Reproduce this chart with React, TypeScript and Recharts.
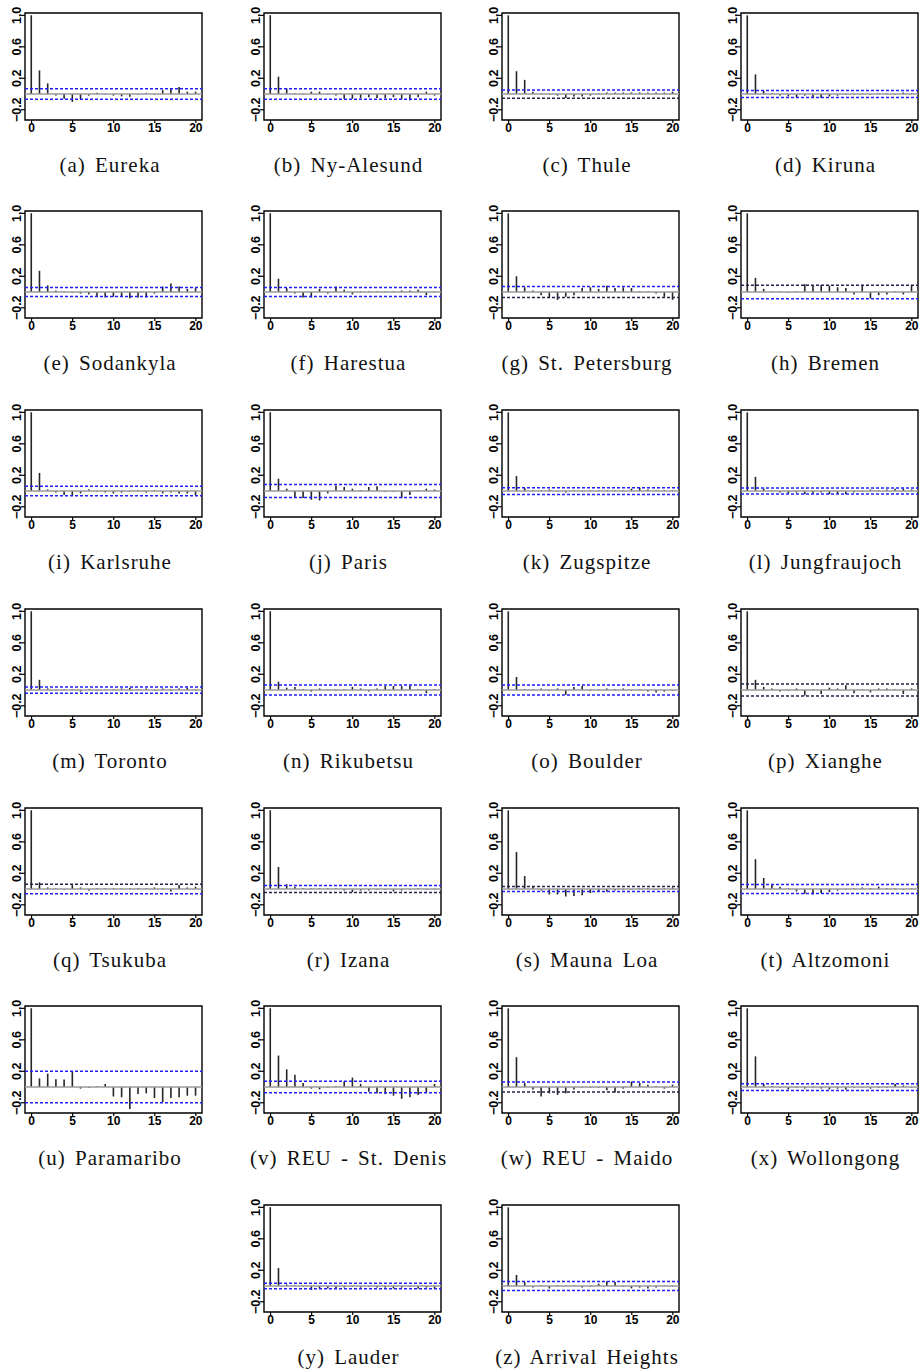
import React from "react";
import { ComposedChart, Bar, XAxis, YAxis, ReferenceLine, ReferenceArea } from "recharts";

const lags = [0, 1, 2, 3, 4, 5, 6, 7, 8, 9, 10, 11, 12, 13, 14, 15, 16, 17, 18, 19, 20];

const eureka = [1, 0.3, 0.135, -0.02, -0.06, -0.1, -0.065, -0.02, 0.015, -0.01, -0.02, -0.03, -0.035, -0.01, 0.015, -0.01, 0.05, 0.07, 0.09, 0.03, 0.03];
const nyAlesund = [1, 0.22, 0.07, 0.01, -0.01, 0.03, 0.03, -0.01, -0.02, -0.06, -0.06, -0.05, -0.04, -0.05, -0.05, -0.04, -0.06, -0.08, -0.04, 0.03, -0.02];
const thule = [1, 0.29, 0.18, 0.03, 0.01, -0.01, -0.02, -0.05, -0.03, -0.03, -0.02, 0.01, 0.02, 0.02, 0.02, 0.02, 0.02, 0.02, 0.02, 0.02, 0.03];
const kiruna = [1, 0.25, 0.04, 0.01, -0.02, -0.03, -0.04, -0.02, -0.04, -0.05, -0.03, -0.02, -0.01, -0.01, 0.01, -0.01, 0.01, 0.01, -0.01, 0.02, 0.01];
const sodankyla = [1, 0.27, 0.085, 0.02, 0.01, -0.01, -0.02, -0.03, -0.05, -0.07, -0.06, -0.05, -0.08, -0.07, -0.07, -0.02, 0.07, 0.11, 0.07, 0.04, 0.05];
const harestua = [1, 0.17, 0.05, -0.02, -0.07, -0.07, 0.04, -0.02, 0.07, 0.03, -0.03, 0.01, 0.01, 0.01, 0.01, 0.01, 0.02, 0.02, 0.03, -0.04, 0.01];
const stPetersburg = [1, 0.2, 0.06, 0.02, -0.04, -0.07, -0.1, -0.06, -0.04, 0.05, 0.06, 0.04, 0.08, 0.05, 0.06, 0.05, 0.01, 0.01, -0.02, -0.06, -0.1];
const bremen = [1, 0.18, 0.04, 0.01, 0.01, -0.01, 0.01, 0.1, 0.09, 0.09, 0.08, 0.06, 0.05, -0.03, 0.09, -0.08, -0.04, -0.03, 0.01, -0.03, 0.09];
const karlsruhe = [1, 0.23, 0.02, -0.02, -0.05, -0.06, -0.03, 0.02, -0.01, -0.02, -0.03, -0.02, -0.01, 0.01, -0.02, 0.01, -0.03, -0.02, -0.03, -0.03, -0.05];
const paris = [1, 0.157, 0.03, -0.09, -0.09, -0.11, -0.12, -0.03, 0.07, 0.05, 0.03, 0.01, 0.05, 0.06, -0.01, -0.01, -0.09, -0.05, 0.01, 0.03, 0.02];
const zugspitze = [1, 0.19, 0.04, 0.01, 0.01, 0.02, -0.01, -0.02, 0.01, -0.01, 0.01, 0.01, 0.01, 0.01, 0.01, 0.03, 0.04, 0.02, 0.01, 0.01, 0.01];
const jungfraujoch = [1, 0.18, 0.03, 0.01, -0.02, -0.03, -0.02, -0.04, -0.03, -0.02, -0.04, -0.03, -0.04, -0.02, -0.01, 0.02, 0.01, 0.02, 0.03, 0.03, 0.02];
const toronto = [1, 0.13, 0.02, -0.01, 0.01, 0.01, -0.02, 0.01, -0.01, 0.01, 0.01, 0.02, 0.03, 0.01, 0.02, -0.01, 0.02, 0.01, 0.02, 0.03, 0.01];
const rikubetsu = [1, 0.106, 0.03, 0.04, 0.01, -0.02, 0.02, 0.01, -0.01, 0.01, 0.04, 0.02, -0.02, 0.02, 0.05, 0.05, 0.05, 0.06, 0.01, -0.04, 0.01];
const boulder = [1, 0.166, 0.01, 0.01, 0.02, -0.01, 0.02, -0.06, 0.04, 0.05, -0.01, 0.01, 0.02, 0.01, 0.02, -0.01, 0.01, -0.02, -0.03, -0.02, -0.01];
const xianghe = [1, 0.13, 0.04, 0.02, -0.02, -0.01, 0.02, -0.07, 0.01, -0.05, 0.03, 0.02, 0.06, -0.04, 0.01, -0.03, 0.02, 0.02, 0.01, -0.05, 0.02];
const tsukuba = [1, 0.085, 0.02, 0.01, -0.01, 0.05, 0.02, -0.02, 0.01, 0.01, 0.01, 0.01, 0.01, 0.01, 0.01, 0.02, 0.01, -0.03, 0.05, 0.02, 0.03];
const izana = [1, 0.28, 0.06, 0.03, 0.01, 0.01, 0.01, 0.01, 0.01, -0.02, -0.04, -0.02, -0.02, -0.01, -0.01, -0.03, -0.02, -0.01, 0.01, -0.01, -0.01];
const maunaLoa = [1, 0.47, 0.165, 0.03, -0.02, -0.07, -0.07, -0.095, -0.09, -0.08, -0.05, -0.03, -0.03, -0.02, -0.01, -0.01, 0.01, 0.01, -0.01, 0.01, 0.02];
const altzomoni = [1, 0.38, 0.14, 0.06, 0.03, 0.01, -0.03, -0.06, -0.07, -0.05, -0.04, -0.02, -0.01, 0.01, 0.02, 0.01, 0.03, 0.01, 0.01, -0.01, 0.01];
const paramaribo = [1, 0.11, 0.17, 0.1, 0.095, 0.2, -0.02, -0.01, 0.01, 0.04, -0.12, -0.13, -0.28, -0.09, -0.08, -0.14, -0.19, -0.14, -0.13, -0.11, -0.11];
const stDenis = [1, 0.4, 0.225, 0.157, 0.05, -0.02, -0.03, -0.01, 0.01, 0.07, 0.12, 0.04, -0.06, -0.08, -0.09, -0.11, -0.15, -0.13, -0.1, -0.07, 0.04];
const maido = [1, 0.38, 0.05, -0.03, -0.12, -0.08, -0.1, -0.08, -0.03, -0.01, -0.01, -0.01, -0.04, -0.07, -0.02, 0.07, 0.05, 0.03, 0.01, -0.02, 0.03];
const wollongong = [1, 0.39, 0.04, 0.01, -0.01, -0.03, -0.01, -0.02, -0.01, -0.02, -0.03, -0.02, -0.03, -0.01, -0.01, -0.02, -0.01, -0.01, 0.04, 0.02, -0.01];
const lauder = [1, 0.23, 0.02, 0.01, -0.01, -0.05, -0.03, -0.03, -0.03, -0.02, -0.01, -0.02, -0.01, -0.02, -0.02, -0.03, -0.02, -0.01, -0.03, -0.02, -0.03];
const arrivalHeights = [1, 0.14, 0.05, -0.02, 0.01, -0.03, 0.01, 0.01, 0.01, -0.02, -0.01, 0.03, 0.06, 0.05, -0.01, -0.03, -0.02, -0.03, -0.02, 0.01, -0.01];

const acfSeries = [
  eureka, nyAlesund, thule, kiruna, sodankyla, harestua, stPetersburg, bremen,
  karlsruhe, paris, zugspitze, jungfraujoch, toronto, rikubetsu, boulder, xianghe,
  tsukuba, izana, maunaLoa, altzomoni, paramaribo, stDenis, maido, wollongong,
  lauder, arrivalHeights,
];

const stationTags = "abcdefghijklmnopqrstuvwxyz".split("");
const stationNames = [
  "Eureka", "Ny-Alesund", "Thule", "Kiruna", "Sodankyla", "Harestua", "St. Petersburg", "Bremen",
  "Karlsruhe", "Paris", "Zugspitze", "Jungfraujoch", "Toronto", "Rikubetsu", "Boulder", "Xianghe",
  "Tsukuba", "Izana", "Mauna Loa", "Altzomoni", "Paramaribo", "REU - St. Denis", "REU - Maido", "Wollongong",
  "Lauder", "Arrival Heights",
];

// confidence bound (±) for each station
const ciLevels = [
  0.066, 0.066, 0.052, 0.045, 0.058, 0.058, 0.07, 0.085,
  0.06, 0.083, 0.043, 0.038, 0.04, 0.064, 0.064, 0.076,
  0.06, 0.045, 0.032, 0.058, 0.2, 0.072, 0.063, 0.043,
  0.036, 0.058,
];

const xTicks = [0, 5, 10, 15, 20];
const yTicks = [-0.2, 0, 0.2, 0.4, 0.6, 0.8, 1];

const BLUE = "#1f1fff";
const DARK = "#22224a";
// dashed bound lines that come out darker in the original
const darkBounds: Record<string, string[]> = {
  c: ["lower"], g: ["lower"], h: ["upper"], p: ["upper", "lower"],
  q: ["upper"], r: ["lower"], s: ["upper"], w: ["lower"],
};

const X_DOMAIN: [number, number] = [-0.8, 20.75];
const Y_DOMAIN: [number, number] = [-0.33, 1.03];

const BOX_W = 177;
const BOX_H = 107;
const colLeft = [25, 263.5, 502, 740.5];
const rowTop = (r: number) => 12.5 + 198.75 * r;

const AXIS_FONT = "'Liberation Sans', Arial, sans-serif";

function YTick(props: any) {
  const { x, y, payload } = props;
  const k = Math.round(payload.value * 10);
  const map: Record<number, string> = { 10: "1.0", 6: "0.6", 2: "0.2", [-2]: "\u22120.2" };
  const lbl = map[k];
  if (!lbl) return null;
  return (
    <text
      x={x}
      y={y}
      transform={`rotate(-90 ${x} ${y})`}
      textAnchor="middle"
      fontSize={12.5}
      fontWeight="bold"
      fontFamily={AXIS_FONT}
      fill="#000"
    >
      {lbl}
    </text>
  );
}

function AcfPanel({ index }: { index: number }) {
  const values = acfSeries[index];
  const data = lags.map((lag, i) => ({ lag, acf: values[i] }));
  const ci = ciLevels[index];
  const tag = stationTags[index];
  const dark = darkBounds[tag] || [];
  const upColor = dark.includes("upper") ? DARK : BLUE;
  const loColor = dark.includes("lower") ? DARK : BLUE;

  let row = Math.floor(index / 4);
  let col = index % 4;
  if (index >= 24) {
    row = 6;
    col = index - 23;
  }
  const boxLeft = colLeft[col];
  const boxTop = rowTop(row);

  return (
    <>
      <div style={{ position: "absolute", left: boxLeft - 25, top: boxTop - 12 }}>
        <ComposedChart
          width={25 + BOX_W + 12}
          height={12 + BOX_H + 31}
          data={data}
          margin={{ top: 12, right: 12, bottom: 0, left: 0 }}
        >
          <XAxis
            dataKey="lag"
            type="number"
            domain={X_DOMAIN}
            ticks={xTicks}
            allowDataOverflow
            axisLine={false}
            tickSize={3}
            tickMargin={0}
            height={31}
            tickLine={{ stroke: "#000", strokeWidth: 1.2 }}
            tick={{ fontSize: 12, fontWeight: "bold", fill: "#000", fontFamily: AXIS_FONT }}
          />
          <YAxis
            type="number"
            domain={Y_DOMAIN}
            ticks={yTicks}
            allowDataOverflow
            axisLine={false}
            width={25}
            tickSize={4}
            tickMargin={0}
            tickLine={{ stroke: "#000", strokeWidth: 1.2 }}
            tick={<YTick />}
          />
          <ReferenceLine y={0} stroke="#9a9a9a" strokeWidth={1.5} />
          <Bar dataKey="acf" barSize={1.6} fill="#262626" isAnimationActive={false} />
          <ReferenceLine y={ci} stroke={upColor} strokeWidth={1.5} strokeDasharray="3 2" />
          <ReferenceLine y={-ci} stroke={loColor} strokeWidth={1.5} strokeDasharray="3 2" />
          <ReferenceArea
            x1={X_DOMAIN[0]}
            x2={X_DOMAIN[1]}
            y1={Y_DOMAIN[0]}
            y2={Y_DOMAIN[1]}
            fill="none"
            stroke="#000"
            strokeWidth={1.4}
            ifOverflow="visible"
          />
        </ComposedChart>
      </div>
      <div
        style={{
          position: "absolute",
          left: boxLeft + 85 - 120,
          width: 240,
          top: boxTop + 152 - 13,
          lineHeight: "26px",
          textAlign: "center",
          fontFamily: "'Liberation Serif', 'Times New Roman', serif",
          fontSize: 21,
          letterSpacing: 1,
          wordSpacing: 3,
          color: "#111",
          whiteSpace: "nowrap",
        }}
      >
        ({tag}) {stationNames[index]}
      </div>
    </>
  );
}

export default function App() {
  return (
    <div style={{ position: "absolute", left: 0, top: 0, width: 922, height: 1372, background: "#fff" }}>
      {acfSeries.map((_, i) => (
        <AcfPanel key={i} index={i} />
      ))}
    </div>
  );
}
